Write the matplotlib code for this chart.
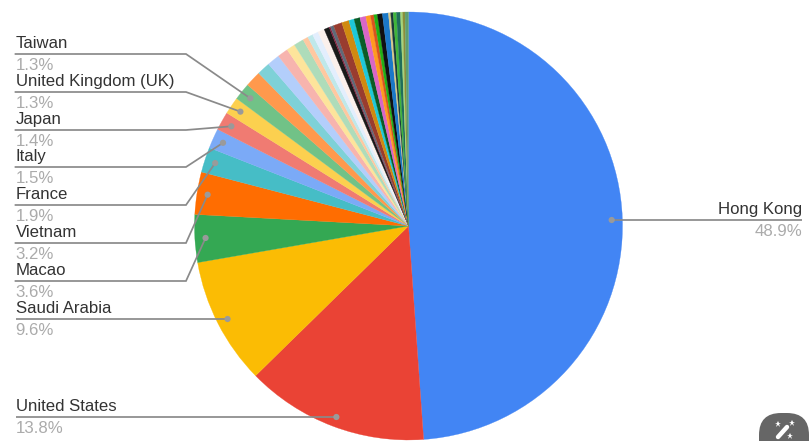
import numpy as np
import matplotlib
matplotlib.use("Agg")
import matplotlib.pyplot as plt
from matplotlib.patches import FancyBboxPatch, Circle

plt.rcParams['font.family'] = ['Liberation Sans', 'DejaVu Sans']

W, H = 810, 441
CX, CY, R = 408.5, 226.0, 214.0

labelled_names = ["Hong Kong", "United States", "Saudi Arabia", "Macao", "Vietnam",
                  "France", "Italy", "Japan", "United Kingdom (UK)", "Taiwan"]
labelled_values = [48.9, 13.8, 9.6, 3.6, 3.2, 1.9, 1.5, 1.4, 1.3, 1.3]
other_values = [1.2, 1.0, 0.95, 0.8, 0.65, 0.75, 0.4, 0.4, 0.45, 0.5,
                0.4, 0.1, 0.25, 0.65, 0.55, 0.4, 0.45, 0.45, 0.35, 0.25,
                0.27, 0.38, 0.45, 0.17, 0.19, 0.24, 0.3, 0.17, 0.17, 0.26]
labelled_colors = ["#4285F4", "#EA4335", "#FBBC04", "#34A853", "#FF6D01",
                   "#46BDC6", "#7BAAF7", "#F07B72", "#FCD04F", "#71C287"]
other_colors = ["#FF994D", "#7ED1D7", "#B3CEFB", "#F7B4AE", "#FDE49B", "#AEDCBA",
                "#FFC8A0", "#BFE8EA", "#E3EEFD", "#FBF0EC",
                "#1A1A1A", "#8A1C3C", "#5F6A78", "#993C2F", "#D08A10", "#1EC8D8",
                "#0B5C26", "#D966C6", "#FF9A1F", "#D9541E", "#22B014", "#111111",
                "#1B78C8", "#D9C98A", "#1A3A3A", "#3FB53A", "#1F6E5A", "#A5D47A",
                "#8A8F3A", "#5E9E70"]
leader_y = [220, 417, 319, 281, 243, 205, 167, 130, 92, 54]

values = labelled_values + other_values
colors = labelled_colors + other_colors

fig = plt.figure(figsize=(W / 100, H / 100), dpi=100, facecolor="white")

pie_ax = fig.add_axes([(CX - R) / W, 1 - (CY + R) / H, 2 * R / W, 2 * R / H])
pie_ax.pie(values, colors=colors, startangle=90, counterclock=False, radius=1,
           wedgeprops=dict(linewidth=0.2), normalize=True)
for w, c in zip(pie_ax.patches, colors):
    w.set_edgecolor(c)
    w.set_clip_on(False)
pie_ax.set_xlim(-1, 1)
pie_ax.set_ylim(-1, 1)
pie_ax.axis("off")

ov = fig.add_axes([0, 0, 1, 1], facecolor="none")
ov.set_xlim(0, W)
ov.set_ylim(H, 0)
ov.axis("off")

total = sum(values)
cum = 0.0
LINE = "#8a8a8a"
LW = 1.25
for i, (name, v, y) in enumerate(zip(labelled_names, labelled_values, leader_y)):
    ang = np.deg2rad((cum + v / 2) / total * 360)
    cum += v
    dx = CX + 0.95 * R * np.sin(ang)
    dy = CY - 0.95 * R * np.cos(ang)
    if i == 0:
        ov.plot([dx, 802], [y, y], color=LINE, lw=LW, solid_capstyle="butt")
        dy = y
        ha, tx = "right", 802
    elif i in (1, 2):
        ov.plot([15.5, dx], [y, y], color=LINE, lw=LW, solid_capstyle="butt")
        dy = y
        ha, tx = "left", 15.5
    else:
        ov.plot([15.5, 186, dx], [y, y, dy], color=LINE, lw=LW, solid_joinstyle="miter")
        ha, tx = "left", 15.5
    ov.add_patch(Circle((dx, dy), 3.1, color="#9a9a9a", lw=0, zorder=5))
    ov.text(tx, y - 10.2, name, ha=ha, va="center", fontsize=12.1, color="#333333")
    ov.text(tx, y + 11.3, f"{v}%", ha=ha, va="center", fontsize=12.1, color="#ababab")

# floating wand button
ov.add_patch(FancyBboxPatch((781, 435), 6, 30, boxstyle="round,pad=22,rounding_size=22",
                            fc="#666666", ec="none", clip_on=True))
ov.plot([778, 787], [437, 427], color="white", lw=3.2, solid_capstyle="round")
ov.plot([778, 792, 790], [424, 423, 436], ls="none", marker="*", ms=4.5,
        color="white", mew=0)

fig.savefig("out.png", dpi=100, facecolor="white")
